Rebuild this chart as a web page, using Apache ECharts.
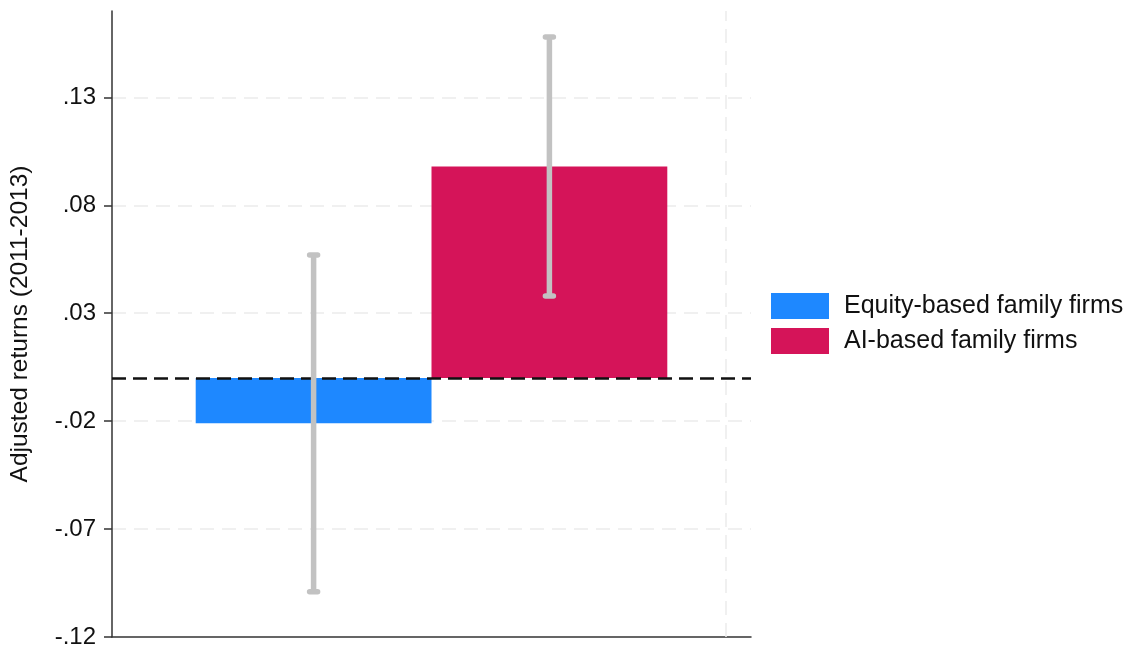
<!DOCTYPE html>
<html>
<head>
<meta charset="utf-8">
<script src="https://cdn.jsdelivr.net/npm/echarts@6/dist/echarts.min.js"></script>
<style>
  html, body { margin: 0; padding: 0; background: #fff; }
  #chart { width: 1131px; height: 652px; }
</style>
</head>
<body>
<div id="chart"></div>
<script>
// Group labels and bar positions on the horizontal value scale
const groups = ['Equity-based family firms', 'AI-based family firms'];
const groupX = [1, 2];
// Mean adjusted returns and 95% confidence bounds
const means = [-0.021, 0.098];
const ciLow = [-0.099, 0.038];
const ciHigh = [0.057, 0.158];
const colors = ['#1e88ff', '#d51459'];
// Y tick values and their printed labels
const yTicks = [-0.12, -0.07, -0.02, 0.03, 0.08, 0.13];
const yTickLabels = ['-.12', '-.07', '-.02', '.03', '.08', '.13'];
const yAxisTitle = 'Adjusted returns (2011-2013)';

const FONT = 'Liberation Sans, Arial, Helvetica, sans-serif';
const chart = echarts.init(document.getElementById('chart'), null, { renderer: 'canvas' });

function labelFor(v) {
  for (let i = 0; i < yTicks.length; i++) {
    if (Math.abs(yTicks[i] - v) < 1e-6) return yTickLabels[i];
  }
  return '';
}

function barRender(params, api) {
  const x = api.value(0), y = api.value(1);
  const p0 = api.coord([x - 0.5, 0]);
  const p1 = api.coord([x + 0.5, y]);
  return {
    type: 'rect',
    shape: {
      x: Math.min(p0[0], p1[0]), y: Math.min(p0[1], p1[1]),
      width: Math.abs(p1[0] - p0[0]), height: Math.abs(p1[1] - p0[1])
    },
    style: { fill: api.visual('color') }
  };
}

function errRender(params, api) {
  const x = api.value(0);
  const lo = api.coord([x, api.value(1)]);
  const hi = api.coord([x, api.value(2)]);
  const cap = 6;
  const st = { stroke: '#c2c2c2', lineWidth: 5.5, lineCap: 'round' };
  return {
    type: 'group',
    children: [
      { type: 'line', shape: { x1: lo[0], y1: lo[1], x2: hi[0], y2: hi[1] }, style: Object.assign({}, st, { lineCap: 'butt' }) },
      { type: 'line', shape: { x1: hi[0] - cap + 2, y1: hi[1], x2: hi[0] + cap - 2, y2: hi[1] }, style: st },
      { type: 'line', shape: { x1: lo[0] - cap + 2, y1: lo[1], x2: lo[0] + cap - 2, y2: lo[1] }, style: st }
    ]
  };
}

const series = groups.map((name, i) => ({
  name: name,
  type: 'custom',
  renderItem: barRender,
  itemStyle: { color: colors[i] },
  encode: { x: 0, y: 1 },
  data: [[groupX[i], means[i]]],
  z: 3
}));

series.push({
  name: 'ci',
  type: 'custom',
  renderItem: errRender,
  encode: { x: 0, y: [1, 2] },
  data: groupX.map((x, i) => [x, ciLow[i], ciHigh[i]]),
  z: 5,
  silent: true
});

// Reference lines: zero line and the right-hand vertical guide
series.push({
  name: 'ref',
  type: 'line',
  data: [],
  silent: true,
  markLine: {
    silent: true,
    symbol: 'none',
    label: { show: false },
    animation: false,
    data: [
      { yAxis: 0, lineStyle: { color: '#111', width: 2.5, type: [14, 7] } },
      { xAxis: 2.75, lineStyle: { color: '#ebebeb', width: 1.5, type: [14, 8] } }
    ]
  },
  z: 4
});

chart.setOption({
  animation: false,
  backgroundColor: '#fff',
  grid: { left: 112, right: 380, top: 11, bottom: 15, containLabel: false },
  legend: {
    data: groups,
    orient: 'vertical',
    left: 771,
    top: 293,
    padding: 0,
    itemWidth: 58,
    itemHeight: 26,
    itemGap: 9,
    icon: 'rect',
    textStyle: { fontFamily: FONT, fontSize: 25, color: '#111', padding: [4, 0, 0, 10] },
    selectedMode: false
  },
  xAxis: {
    type: 'value',
    min: 0.145,
    max: 2.855,
    axisLine: { show: true, onZero: false, lineStyle: { color: '#333', width: 1.5 } },
    axisTick: { show: false },
    axisLabel: { show: false },
    splitLine: { show: false }
  },
  yAxis: {
    type: 'value',
    min: -0.12,
    max: 0.17,
    interval: 0.05,
    name: yAxisTitle,
    nameLocation: 'middle',
    nameRotate: 90,
    nameGap: 79,
    nameTextStyle: { fontFamily: FONT, fontSize: 24.5, color: '#111' },
    axisLine: { show: true, lineStyle: { color: '#333', width: 1.5 } },
    axisTick: { show: true, length: 8, lineStyle: { color: '#333', width: 1.5 } },
    axisLabel: {
      fontFamily: FONT, fontSize: 24, color: '#111', margin: 16,
      padding: [4, 0, 0, 0],
      showMaxLabel: false,
      formatter: labelFor
    },
    splitLine: {
      show: true, showMinLine: false, showMaxLine: false,
      lineStyle: { color: '#ebebeb', width: 1.5, type: [14, 8] }
    }
  },
  series: series
});
</script>
</body>
</html>
